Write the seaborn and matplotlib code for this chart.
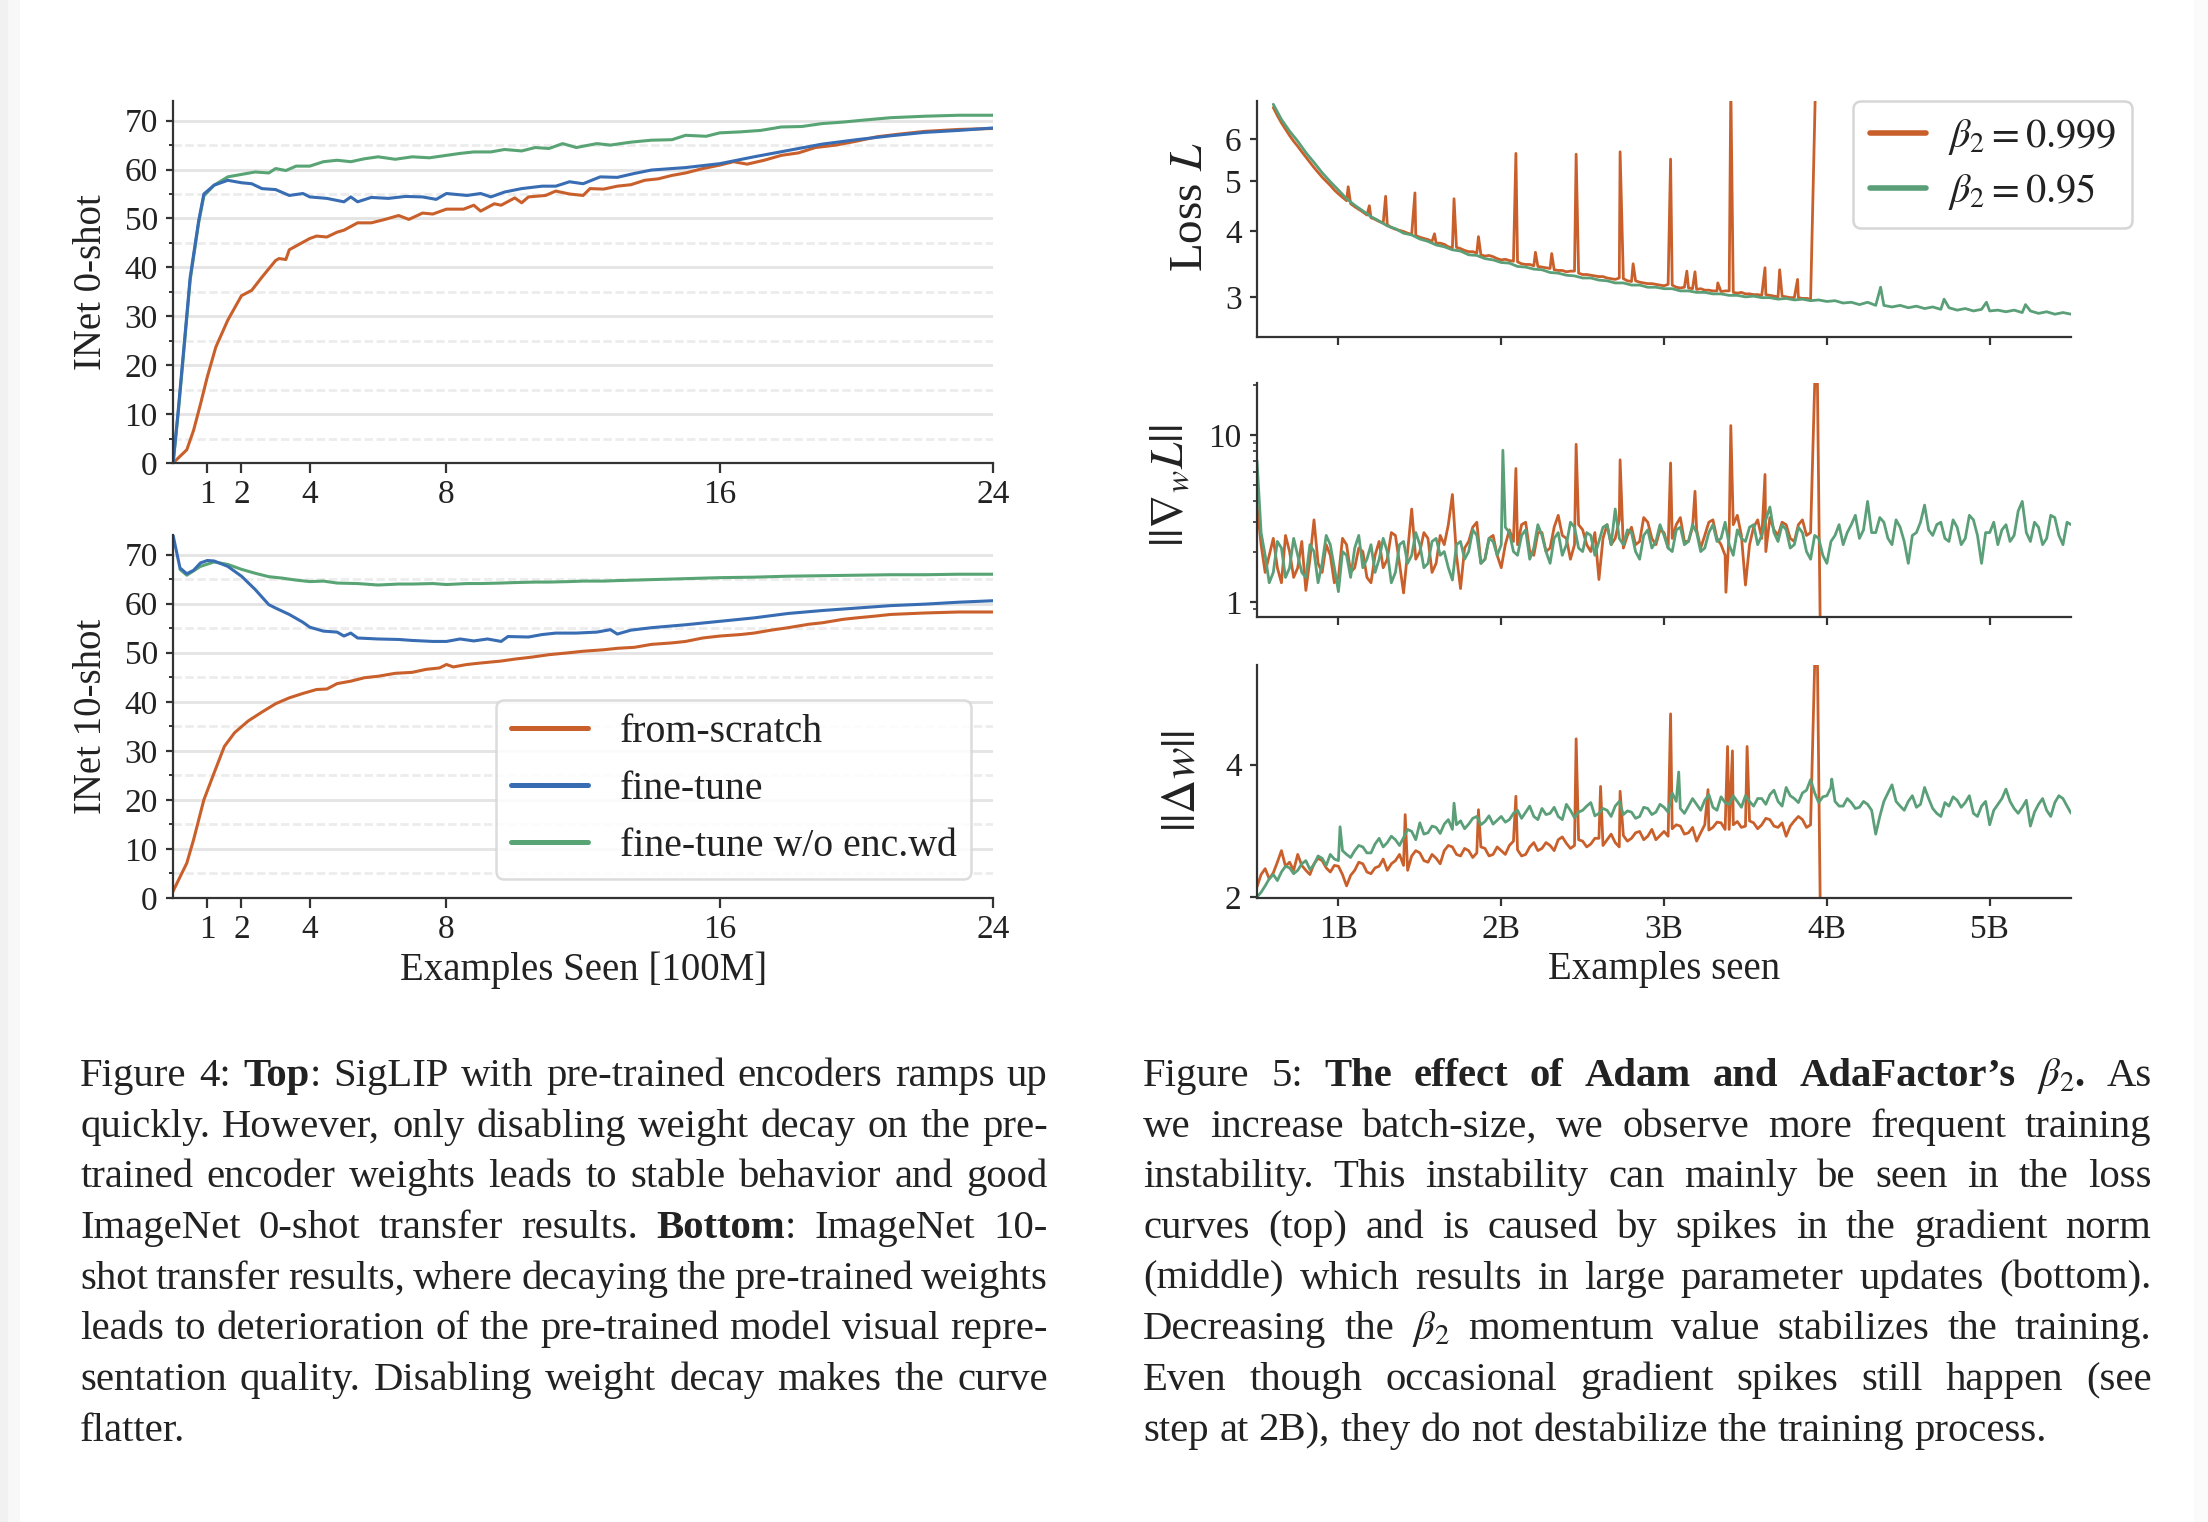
import re

import numpy as np
import pandas as pd
import matplotlib.pyplot as plt
from matplotlib.patches import Rectangle
from matplotlib.ticker import MultipleLocator, NullLocator, NullFormatter
import seaborn as sns


# ---------------------------------------------------------------- Figure 4 data
# x in units of 100M examples, y = ImageNet accuracy (%)
top_x_scratch = [0, 0.4, 0.6, 0.8, 1.0, 1.25, 1.6, 2.0, 2.3, 2.6, 3.0, 3.1, 3.3, 3.4, 4.0, 4.2, 4.5, 4.8, 5.0, 5.4,
                 5.8, 6.2, 6.6, 6.9, 7.3, 7.6, 8.0, 8.5, 8.8, 9.0, 9.4, 9.6, 10.0, 10.2, 10.4, 10.9, 11.2, 11.6, 12.0,
                 12.2, 12.6, 13.0, 13.4, 13.8, 14.2, 14.6, 15.0, 15.5, 16.0, 16.4, 16.8, 17.3, 17.8, 18.3, 18.8, 19.4,
                 20.0, 20.6, 21.2, 22.0, 23.0, 24.0]
top_y_scratch = [0, 2.7, 6.7, 12, 17.6, 23.7, 29.2, 34.2, 35.3, 38, 41.4, 41.8, 41.6, 43.6, 45.9, 46.4, 46.2, 47.2, 47.6,
                 49.1, 49.1, 49.8, 50.6, 49.8, 51.1, 50.9, 51.9, 51.9, 52.7, 51.5, 53, 52.7, 54.2, 53.2, 54.4, 54.7,
                 55.6, 55, 54.7, 56.1, 56, 56.6, 56.9, 57.8, 58.1, 58.8, 59.3, 60.2, 60.9, 61.6, 61.1, 61.9, 62.9, 63.4,
                 64.5, 65, 65.8, 66.7, 67.2, 67.8, 68.2, 68.4]
top_x_finetune = [0, 0.15, 0.3, 0.5, 0.75, 0.9, 1.2, 1.6, 2.0, 2.3, 2.6, 3.0, 3.4, 3.8, 4.0, 4.5, 5.0, 5.2, 5.4, 5.8, 6.3,
                  6.8, 7.3, 7.7, 8.0, 8.6, 9.0, 9.3, 9.7, 10.2, 10.8, 11.2, 11.6, 12.0, 12.5, 13.0, 13.5, 14, 15, 16,
                  17, 18, 19, 20, 21, 22, 23, 24]
top_y_finetune = [0, 10.8, 22.4, 38, 49.6, 55, 56.8, 57.8, 57.3, 57.1, 56.1, 55.9, 54.7, 55.1, 54.4, 54.1, 53.4, 54.4,
                  53.4, 54.3, 54.1, 54.5, 54.4, 53.9, 55.1, 54.7, 55.1, 54.4, 55.4, 56.1, 56.6, 56.6, 57.5, 57.1, 58.5,
                  58.4, 59.2, 59.9, 60.4, 61.2, 62.6, 63.9, 65.2, 66.1, 66.9, 67.6, 68, 68.5]
top_x_nowd = [0, 0.15, 0.3, 0.5, 0.75, 0.9, 1.2, 1.6, 2.0, 2.4, 2.8, 3.0, 3.3, 3.6, 4.0, 4.4, 4.8, 5.2, 5.6, 6.0, 6.5,
              7.0, 7.5, 8.0, 8.4, 8.8, 9.3, 9.7, 10.2, 10.6, 11.0, 11.4, 11.8, 12.4, 12.8, 13.4, 14.0, 14.6, 15.0, 15.6,
              16.0, 16.6, 17.2, 17.8, 18.4, 19.0, 19.6, 20.2, 21, 22, 23, 24]
top_y_nowd = [0, 10.2, 21.8, 37.4, 49.2, 54.6, 56.8, 58.5, 59, 59.5, 59.3, 60.2, 59.8, 60.7, 60.7, 61.6, 61.9, 61.6,
              62.2, 62.6, 62.1, 62.6, 62.4, 62.9, 63.3, 63.6, 63.6, 64.1, 63.8, 64.5, 64.3, 65.3, 64.5, 65.3, 65, 65.6,
              66, 66.1, 67, 66.8, 67.5, 67.7, 68, 68.7, 68.8, 69.4, 69.7, 70.1, 70.6, 70.9, 71.1, 71.1]

bot_x_scratch = [0, 0.4, 0.6, 0.9, 1.2, 1.5, 1.8, 2.2, 2.6, 3.0, 3.4, 3.8, 4.2, 4.5, 4.8, 5.2, 5.6, 6.0, 6.5, 7.0, 7.4,
                 7.8, 8.0, 8.2, 8.6, 9.0, 9.6, 10, 10.5, 11, 11.6, 12, 12.6, 13, 13.5, 14, 14.6, 15, 15.5, 16, 16.6,
                 17, 17.5, 18, 18.6, 19, 19.6, 20, 20.6, 21, 22, 23, 24]
bot_y_scratch = [1.4, 7.1, 11.9, 20, 25.5, 30.9, 33.7, 36.1, 37.9, 39.6, 40.8, 41.7, 42.5, 42.6, 43.7, 44.2, 44.9, 45.2,
                 45.8, 46, 46.6, 46.9, 47.6, 47.1, 47.6, 47.9, 48.3, 48.7, 49.1, 49.6, 50, 50.3, 50.6, 50.9, 51.1, 51.7,
                 52, 52.3, 53, 53.4, 53.7, 54, 54.6, 55.1, 55.8, 56.1, 56.8, 57.1, 57.5, 57.8, 58.1, 58.3, 58.3]
bot_x_finetune = [0, 0.2, 0.4, 0.6, 0.8, 1.0, 1.2, 1.6, 2.0, 2.4, 2.8, 3.0, 3.4, 3.8, 4.0, 4.4, 4.8, 5.0, 5.2, 5.4, 6.0,
                  6.6, 7.0, 7.6, 8.0, 8.4, 8.8, 9.2, 9.6, 9.8, 10.4, 10.8, 11.2, 11.8, 12.4, 12.8, 13.0, 13.4, 14, 15,
                  16, 17, 18, 19, 20, 21, 22, 23, 24]
bot_y_finetune = [73.9, 67.3, 66.1, 66.8, 68.3, 68.8, 68.7, 67.6, 65.6, 62.9, 59.8, 59.1, 57.8, 56.2, 55.2, 54.4, 54.2,
                  53.4, 54, 53, 52.8, 52.7, 52.5, 52.3, 52.3, 52.8, 52.4, 52.8, 52.3, 53.3, 53.2, 53.7, 54, 54, 54.2,
                  54.7, 53.8, 54.6, 55.1, 55.7, 56.4, 57.1, 58, 58.6, 59.1, 59.6, 59.9, 60.3, 60.6]
bot_x_nowd = [0.2, 0.4, 0.8, 1.2, 1.6, 2.0, 2.4, 2.8, 3.2, 3.6, 4.0, 4.4, 4.8, 5.4, 6.0, 6.6, 7.0, 7.6, 8.0, 8.6, 9.0,
              9.6, 10, 10.6, 11, 11.6, 12, 12.6, 13, 14, 15, 16, 17, 18, 19, 20, 21, 22, 23, 24]
bot_y_nowd = [67, 65.8, 67.6, 68.5, 68, 67, 66.2, 65.5, 65.2, 64.8, 64.5, 64.6, 64.2, 64.1, 63.8, 64, 64, 64.1, 63.9,
              64.1, 64.1, 64.2, 64.3, 64.4, 64.4, 64.5, 64.6, 64.6, 64.7, 64.9, 65.1, 65.3, 65.4, 65.6, 65.7, 65.8,
              65.9, 65.9, 66, 66]

fig4_labels = ['from-scratch', 'fine-tune', 'fine-tune w/o enc.wd']
fig4_xticks = [1, 2, 4, 8, 16, 24]

# ---------------------------------------------------------------- Figure 5 data
# readings taken every `step` billion examples from `start`; spikes listed separately
loss_start = 0.60
loss_999 = [6.90, 6.66, 6.45, 6.27, 6.10, 5.95, 5.82, 5.68, 5.55, 5.42,
            5.30, 5.19, 5.08, 4.99, 4.90, 4.80, 4.72, 4.65, 4.58, 4.52,
            4.46, 4.41, 4.36, 4.30, 4.25, 4.22, 4.18, 4.15, 4.12, 4.07,
            4.04, 4.02, 4.00, 3.97, 3.95, 3.93, 3.90, 3.88, 3.86, 3.83,
            3.80, 3.80, 3.78, 3.74, 3.72, 3.73, 3.71, 3.68, 3.66, 3.66,
            3.64, 3.61, 3.59, 3.60, 3.58, 3.55, 3.53, 3.54, 3.52, 3.51,
            3.50, 3.47, 3.46, 3.46, 3.44, 3.43, 3.42, 3.41, 3.40, 3.38,
            3.37, 3.37, 3.35, 3.36, 3.36, 3.33, 3.31, 3.31, 3.30, 3.29,
            3.28, 3.28, 3.26, 3.25, 3.24, 3.26, 3.25, 3.22, 3.21, 3.22,
            3.20, 3.19, 3.18, 3.18, 3.17, 3.16, 3.15, 3.17, 3.16, 3.13,
            3.12, 3.13, 3.12, 3.11, 3.10, 3.11, 3.09, 3.09, 3.08, 3.08,
            3.07, 3.08, 3.08, 3.06, 3.05, 3.06, 3.04, 3.04, 3.03, 3.03,
            3.02, 3.03, 3.02, 3.01, 3.00, 3.01, 3.00, 2.99, 2.99, 2.99,
            2.98, 2.98, 2.97]
loss_95 = [7.00, 6.55, 6.22, 5.95, 5.66, 5.42, 5.18, 4.98, 4.80, 4.62,
           4.49, 4.38, 4.27, 4.19, 4.10, 4.05, 3.97, 3.94, 3.87, 3.83,
           3.77, 3.74, 3.69, 3.67, 3.61, 3.60, 3.55, 3.53, 3.49, 3.48,
           3.43, 3.42, 3.39, 3.38, 3.34, 3.33, 3.30, 3.29, 3.26, 3.26,
           3.23, 3.22, 3.19, 3.19, 3.16, 3.16, 3.13, 3.13, 3.11, 3.11,
           3.08, 3.08, 3.06, 3.06, 3.04, 3.04, 3.02, 3.02, 3.00, 3.01,
           2.99, 2.99, 2.97, 2.98, 2.96, 2.97, 2.95, 2.96, 2.94, 2.95,
           2.92, 2.93, 2.90, 2.93, 2.89, 2.89, 2.87, 2.89, 2.86, 2.88,
           2.85, 2.87, 2.84, 2.86, 2.83, 2.85, 2.82, 2.84, 2.82, 2.83,
           2.81, 2.83, 2.80, 2.82, 2.79, 2.81, 2.78, 2.80, 2.78]
loss_spike_x_999 = [1.06, 1.19, 1.29, 1.47, 1.59, 1.71, 1.86, 2.09, 2.21, 2.31, 2.46, 2.73, 2.81, 3.04, 3.14, 3.19,
                    3.33, 3.41, 3.62, 3.71, 3.82, 3.93]
loss_spike_y_999 = [4.87, 4.48, 4.67, 4.74, 3.96, 4.62, 3.91, 5.64, 3.65, 3.63, 5.62, 5.68, 3.47, 5.50, 3.36, 3.35,
                    3.19, 7.6, 3.41, 3.38, 3.24, 7.6]
loss_spike_x_95 = [4.33, 4.72, 4.98, 5.22]
loss_spike_y_95 = [3.13, 2.97, 2.93, 2.90]

norm_start = 0.50
grad_999 = [3.8, 2.2, 1.5, 1.9, 2.4, 1.6, 1.3, 2.5, 2.0, 1.4,
            1.6, 2.3, 1.17, 1.8, 3.1, 1.7, 1.5, 2.2, 1.9, 1.3,
            1.4, 2.4, 2.2, 1.5, 1.6, 2.1, 2.0, 1.4, 1.3, 1.9,
            2.3, 1.6, 1.8, 2.6, 2.5, 1.7, 1.13, 2.0, 3.6, 1.8,
            2.0, 2.6, 2.4, 1.5, 1.7, 2.5, 2.2, 2.9, 4.4, 1.9,
            1.2, 2.1, 2.3, 2.8, 3.0, 1.7, 1.8, 2.4, 2.5, 1.9,
            1.6, 2.2, 2.7, 2.3, 2.2, 2.9, 3.0, 2.0, 1.9, 2.6,
            2.6, 2.0, 2.1, 2.8, 3.3, 2.5, 2.4, 1.8, 2.2, 2.9,
            2.7, 2.2, 2.0, 2.6, 1.36, 2.4, 2.9, 2.2, 2.4, 3.1,
            2.1, 2.5, 2.8, 2.2, 2.3, 3.2, 3.0, 2.4, 2.2, 2.7,
            2.6, 2.1, 2.4, 2.9, 3.2, 2.3, 2.3, 2.8, 2.7, 2.1,
            2.5, 3.0, 3.1, 2.4, 2.2, 1.9, 2.6, 2.9, 3.3, 2.5,
            1.26, 2.2, 2.8, 3.1, 2.4, 2.0, 3.2, 2.7, 2.5, 3.0,
            2.9, 2.4, 2.3, 2.9, 3.1, 2.5,
            2.6]
grad_95 = [7.0, 2.6, 1.9, 1.3, 1.5, 2.3, 2.1, 1.4, 1.6, 2.4,
           1.9, 1.5, 1.4, 2.2, 2.0, 1.3, 1.7, 2.5, 2.2, 1.6,
           1.15, 2.0, 1.9, 1.4, 2.1, 2.5, 1.6, 1.8, 2.2, 1.5,
           1.8, 2.4, 2.0, 1.3, 1.5, 2.2, 2.3, 1.7, 1.9, 2.6,
           2.2, 1.6, 1.7, 2.3, 2.4, 1.9, 2.0, 1.6, 1.35, 2.2,
           2.3, 1.8, 2.0, 2.7, 2.5, 1.7, 1.8, 2.4, 2.3, 1.9,
           2.2, 2.8, 2.6, 2.0, 1.9, 2.5, 2.7, 1.8, 2.1, 2.9,
           2.5, 2.0, 1.7, 2.4, 2.6, 1.9, 2.2, 3.0, 2.8, 2.1,
           2.0, 2.6, 2.5, 1.9, 2.3, 2.8, 2.9, 2.2, 3.6, 2.4,
           2.2, 2.7, 2.6, 2.0, 1.8, 2.5, 2.7, 2.1, 2.3, 2.9,
           2.5, 2.1, 2.0, 2.7, 2.8, 2.2, 2.3, 2.9, 2.6, 2.0,
           2.1, 2.6, 2.9, 2.3, 2.4, 3.0, 2.2, 1.9, 2.7, 2.4,
           2.3, 2.8, 2.9, 2.2, 2.5, 3.1, 3.7, 2.6, 2.3, 2.9,
           2.7, 2.1, 2.2, 2.8, 2.6, 2.0, 1.8, 2.5, 2.4, 1.9,
           1.7, 2.3, 2.5, 2.9, 2.2, 2.6, 2.9, 3.3, 2.4, 2.7,
           4.0, 2.6, 2.6, 3.2, 3.0, 2.4, 2.2, 3.1, 2.8, 2.3,
           1.7, 2.5, 2.6, 3.0, 3.8, 2.7, 2.5, 2.9, 3.0, 2.4,
           2.3, 3.1, 2.8, 2.2, 2.4, 3.3, 3.1, 2.5, 1.7, 2.6,
           2.6, 3.0, 2.2, 2.7, 2.9, 2.3, 2.5, 3.5, 4.0, 2.6,
           2.3, 3.0, 2.8, 2.2, 2.4, 3.3, 3.2, 2.5, 2.2, 3.0,
           2.9]
grad_spike_x_999 = [2.09, 2.46, 2.73, 3.04, 3.19, 3.38, 3.41, 3.62, 3.93, 3.94, 3.96]
grad_spike_y_999 = [6.3, 8.8, 7.1, 6.8, 4.6, 1.14, 11.4, 5.8, 30, 30, 0.6]
grad_spike_x_95 = [2.01]
grad_spike_y_95 = [8.1]

upd_999 = [2.11, 2.25, 2.32, 2.20, 2.27, 2.40, 2.55, 2.35, 2.40, 2.30,
           2.50, 2.36, 2.30, 2.25, 2.38, 2.45, 2.42, 2.33, 2.28, 2.36,
           2.35, 2.25, 2.12, 2.24, 2.30, 2.40, 2.38, 2.28, 2.26, 2.33,
           2.35, 2.44, 2.30, 2.38, 2.42, 2.50, 2.36, 2.30, 2.48, 2.55,
           2.52, 2.42, 2.40, 2.50, 2.45, 2.38, 2.55, 2.62, 2.60, 2.50,
           2.48, 2.58, 2.55, 2.46, 2.52, 2.60, 2.58, 2.48, 2.50, 2.60,
           2.55, 2.50, 2.62, 2.68, 2.56, 2.48, 2.50, 2.60, 2.66, 2.55,
           2.58, 2.66, 2.62, 2.55, 2.70, 2.74, 2.65, 2.58, 2.62, 2.70,
           2.68, 2.60, 2.64, 2.72, 2.72, 2.62, 2.70, 2.78, 2.66, 2.60,
           2.76, 2.68, 2.72, 2.80, 2.82, 2.70, 2.75, 2.85, 2.70, 2.76,
           2.82, 2.75, 2.86, 2.92, 2.90, 2.78, 2.80, 2.88, 2.68, 2.80,
           2.92, 2.84, 2.88, 2.96, 2.95, 2.85, 2.85, 2.92, 2.97, 2.88,
           2.90, 2.98, 2.95, 2.86, 2.92, 3.02, 3.00, 2.90, 2.88, 2.95,
           2.75, 2.90, 2.98, 3.05, 3.00, 2.88,
           2.92]
upd_95 = [2.00, 2.05, 2.12, 2.20, 2.25, 2.18, 2.28, 2.35, 2.33, 2.26,
          2.30, 2.38, 2.42, 2.31, 2.37, 2.48, 2.45, 2.36, 2.50, 2.44,
          2.42, 2.55, 2.50, 2.46, 2.55, 2.62, 2.60, 2.52, 2.52, 2.64,
          2.72, 2.60, 2.66, 2.75, 2.70, 2.62, 2.73, 2.85, 2.82, 2.70,
          2.95, 2.78, 2.80, 2.90, 2.88, 2.79, 2.93, 3.00, 2.85, 2.92,
          2.98, 2.86, 2.93, 3.02, 3.05, 2.92, 2.97, 3.06, 2.93, 2.99,
          3.05, 2.96, 3.00, 3.10, 3.15, 3.02, 3.12, 3.22, 3.05, 3.00,
          3.18, 3.08, 3.10, 3.20, 3.05, 3.00, 3.25, 3.15, 3.03, 3.12,
          3.15, 3.22, 3.28, 3.06, 3.10, 3.18, 3.15, 3.05, 3.22, 3.30,
          3.08, 3.14, 3.12, 3.02, 3.05, 3.20, 3.18, 3.08, 3.12, 3.25,
          3.20, 3.12, 3.45, 3.30, 3.18, 3.10, 3.22, 3.35, 3.25, 3.15,
          3.32, 3.42, 3.20, 3.15, 3.38, 3.28, 3.25, 3.40, 3.30, 3.20,
          3.40, 3.30, 3.22, 3.35, 3.35, 3.25, 3.42, 3.50, 3.30, 3.22,
          3.55, 3.40, 3.35, 3.28, 3.45, 3.50, 3.70, 3.45, 3.28, 3.38,
          3.40, 3.55, 3.30, 3.22, 3.22, 3.35, 3.28, 3.18, 3.20, 3.30,
          3.25, 3.15, 2.78, 3.05, 3.30, 3.45, 3.60, 3.30, 3.22, 3.15,
          3.30, 3.40, 3.20, 3.25, 3.55, 3.35, 3.18, 3.10, 3.05, 3.28,
          3.22, 3.38, 3.32, 3.20, 3.28, 3.40, 3.10, 3.05, 3.22, 3.30,
          2.92, 3.15, 3.25, 3.35, 3.52, 3.30, 3.18, 3.10, 3.20, 3.32,
          2.90, 3.12, 3.25, 3.35, 3.15, 3.05, 3.28, 3.40, 3.35, 3.22,
          3.10]
upd_spike_x_999 = [1.41, 1.86, 2.09, 2.46, 2.61, 2.73, 3.04, 3.27, 3.39, 3.42, 3.51, 3.93, 3.94, 3.96]
upd_spike_y_999 = [3.08, 3.16, 3.39, 4.58, 3.57, 3.48, 5.22, 3.51, 4.4, 4.3, 4.4, 8.0, 8.0, 1.8]
upd_spike_x_95 = [1.01, 1.71, 3.09, 4.03]
upd_spike_y_95 = [2.89, 3.27, 3.85, 3.71]

fig5_labels = [r'$\beta_2=0.999$', r'$\beta_2=0.95$']
fig5_xticks = [1, 2, 3, 4, 5]
fig5_xticklabels = ['1B', '2B', '3B', '4B', '5B']

# ---------------------------------------------------------------- captions
caption_4 = [
    "Figure 4: *Top*: SigLIP with pre-trained encoders ramps up",
    "quickly. However, only disabling weight decay on the pre-",
    "trained encoder weights leads to stable behavior and good",
    "ImageNet 0-shot transfer results. *Bottom*: ImageNet 10-",
    "shot transfer results, where decaying the pre-trained weights",
    "leads to deterioration of the pre-trained model visual repre-",
    "sentation quality. Disabling weight decay makes the curve",
    "flatter.",
]
caption_5 = [
    "Figure 5: *The* *effect* *of* *Adam* *and* *AdaFactor\u2019s* $\\beta_2$*.* As",
    "we increase batch-size, we observe more frequent training",
    "instability. This instability can mainly be seen in the loss",
    "curves (top) and is caused by spikes in the gradient norm",
    "(middle) which results in large parameter updates (bottom).",
    "Decreasing the $\\beta_2$ momentum value stabilizes the training.",
    "Even though occasional gradient spikes still happen (see",
    "step at 2B), they do not destabilize the training process.",
]

ORANGE = '#c9602b'
BLUE = '#386cb3'
GREEN = '#59a475'
GREEN5 = '#5a9f78'
INK = '#222222'
SPINE = '#333333'

sns.set_style('ticks')
plt.rcParams['font.family'] = ['Liberation Serif', 'DejaVu Serif']
plt.rcParams.update({
    'mathtext.fontset': 'stix',
    'axes.edgecolor': SPINE,
    'axes.linewidth': 0.8,
    'xtick.color': SPINE,
    'ytick.color': SPINE,
    'xtick.labelcolor': INK,
    'ytick.labelcolor': INK,
    'text.color': INK,
    'axes.labelcolor': INK,
})


def sampled(start, step, vals, sx, sy):
    x = np.concatenate([start + step * np.arange(len(vals)), sx])
    y = np.concatenate([vals, sy])
    order = np.argsort(x, kind='stable')
    return pd.DataFrame({'x': x[order], 'y': y[order]})


def style_fig4(ax, ylabel):
    ax.set_xlim(0, 24)
    ax.set_ylim(0, 74)
    ax.set_xticks(fig4_xticks, labels=[str(t) for t in fig4_xticks])
    ax.set_yticks(range(0, 71, 10))
    ax.yaxis.set_minor_locator(MultipleLocator(5))
    ax.grid(axis='y', which='major', color='#e4e4e4', lw=1.0, ls='-')
    ax.grid(axis='y', which='minor', color='#ececec', lw=1.0, ls=(0, (3, 1.3)))
    ax.set_axisbelow(True)
    ax.tick_params(axis='x', length=3.6, width=0.8, pad=2.5, labelsize=12)
    ax.tick_params(axis='y', which='major', length=2.5, width=0.8, pad=3, labelsize=12)
    ax.tick_params(axis='y', which='minor', length=1.6, width=0.7)
    ax.set_xlabel('')
    ax.set_ylabel(ylabel, fontsize=14, va='center')
    ax.yaxis.set_label_coords(-0.099, 0.5)
    sns.despine(ax=ax)


def style_fig5(ax, ylabel, label_x, label_y=0.5):
    ax.set_xlim(0.5, 5.5)
    ax.set_xticks(fig5_xticks, labels=fig5_xticklabels)
    ax.tick_params(axis='x', length=3.0, width=0.8, pad=3, labelsize=12)
    ax.tick_params(axis='y', which='major', length=2.5, width=0.8, pad=3, labelsize=12)
    ax.tick_params(axis='y', which='minor', length=1.5, width=0.6)
    ax.set_xlabel('')
    ax.set_ylabel(ylabel, fontsize=17, va='center')
    ax.yaxis.set_label_coords(label_x, label_y)
    sns.despine(ax=ax)


def caption(fig, lines, x0, x1, y0, step, size):
    rend = fig.canvas.get_renderer()
    fw = fig.bbox.width
    space = 0.25 * size * fig.dpi / 72 / fw
    for i, line in enumerate(lines):
        y = y0 - i * step
        words = []
        for w in line.split():
            parts = []
            for p in re.split(r'(\*[^*]+\*)', w):
                if not p:
                    continue
                bold = len(p) > 2 and p[0] == '*' and p[-1] == '*'
                t = fig.text(x0, y, p[1:-1] if bold else p, fontsize=size,
                             fontweight='bold' if bold else 'normal', color=INK,
                             ha='left', va='baseline')
                parts.append((t, t.get_window_extent(rend).width / fw))
            words.append(parts)
        widths = [sum(wd for _, wd in parts) for parts in words]
        if i < len(lines) - 1 and len(words) > 1:
            gap = (x1 - x0 - sum(widths)) / (len(words) - 1)
        else:
            gap = space
        x = x0
        for parts, wdt in zip(words, widths):
            xx = x
            for t, wd in parts:
                t.set_x(xx)
                xx += wd
            x += wdt + gap


fig = plt.figure(figsize=(11.04, 7.61), dpi=200)
fig.patch.set_facecolor('white')
fig.patches.append(Rectangle((0, 0), 0.004, 1, transform=fig.transFigure, color='#f1f1f1', zorder=0))
fig.patches.append(Rectangle((0.004, 0), 0.004, 1, transform=fig.transFigure, color='#f8f8f8', zorder=0))
fig.patches.append(Rectangle((0.994, 0), 0.006, 1, transform=fig.transFigure, color='#fbfbfb', zorder=0))

# ---------------- Figure 4
ax_a = fig.add_axes([0.0784, 0.6958, 0.3714, 0.2378])
ax_b = fig.add_axes([0.0784, 0.4100, 0.3714, 0.2385])

for ax, xs, ys in [(ax_a, (top_x_scratch, top_x_finetune, top_x_nowd), (top_y_scratch, top_y_finetune, top_y_nowd)),
                   (ax_b, (bot_x_scratch, bot_x_finetune, bot_x_nowd), (bot_y_scratch, bot_y_finetune, bot_y_nowd))]:
    for x, y, c, lab, z in zip(xs, ys, (ORANGE, BLUE, GREEN), fig4_labels, (2.2, 2.4, 2.3)):
        sns.lineplot(x=x, y=y, ax=ax, color=c, lw=1.1, label=lab, estimator=None, zorder=z)

style_fig4(ax_a, 'INet 0-shot')
style_fig4(ax_b, 'INet 10-shot')
ax_a.get_legend().remove()
ax_b.set_xlabel('Examples Seen [100M]', fontsize=14, va='center')
ax_b.xaxis.set_label_coords(0.5, -0.198)
leg = ax_b.legend(loc='lower right', bbox_to_anchor=(0.973, 0.052), borderaxespad=0, fontsize=14.3,
                  handlelength=1.95, handletextpad=0.8, labelspacing=0.5, borderpad=0.36,
                  frameon=True, fancybox=True, edgecolor='#d6d6d6', framealpha=0.85)
leg.get_frame().set_linewidth(0.9)
for ln in leg.get_lines():
    ln.set_linewidth(1.8)

# ---------------- Figure 5
ax_c = fig.add_axes([0.5693, 0.7789, 0.3687, 0.1547])
ax_d = fig.add_axes([0.5693, 0.5946, 0.3687, 0.1537])
ax_e = fig.add_axes([0.5693, 0.4100, 0.3687, 0.1534])
for ax in (ax_c, ax_d, ax_e):
    ax.set_yscale('log')

panels = [
    (ax_c, sampled(loss_start, 0.025, loss_999, loss_spike_x_999, loss_spike_y_999),
     sampled(loss_start, 0.05, loss_95, loss_spike_x_95, loss_spike_y_95)),
    (ax_d, sampled(norm_start, 0.025, grad_999, grad_spike_x_999, grad_spike_y_999),
     sampled(norm_start, 0.025, grad_95, grad_spike_x_95, grad_spike_y_95)),
    (ax_e, sampled(norm_start, 0.025, upd_999, upd_spike_x_999, upd_spike_y_999),
     sampled(norm_start, 0.025, upd_95, upd_spike_x_95, upd_spike_y_95)),
]
for ax, d999, d95 in panels:
    lab = ax is ax_c
    sns.lineplot(data=d999, x='x', y='y', ax=ax, color=ORANGE, lw=1.0, estimator=None,
                 label=fig5_labels[0] if lab else None)
    sns.lineplot(data=d95, x='x', y='y', ax=ax, color=GREEN5, lw=1.0, estimator=None,
                 label=fig5_labels[1] if lab else None)

ax_c.set_ylim(2.52, 7.1)
ax_c.set_yticks([3, 4, 5, 6], labels=['3', '4', '5', '6'])
ax_c.yaxis.set_minor_locator(NullLocator())
style_fig5(ax_c, r'Loss $L$', -0.082, 0.55)
ax_c.tick_params(axis='x', labelbottom=False)

ax_d.set_ylim(0.81, 20.5)
ax_d.set_yticks([1, 10], labels=['1', '10'])
ax_d.yaxis.set_minor_formatter(NullFormatter())
style_fig5(ax_d, r'$||\nabla_w L||$', -0.105, 0.56)
ax_d.tick_params(axis='x', labelbottom=False)

ax_e.set_ylim(1.99, 6.76)
ax_e.set_yticks([2, 4], labels=['2', '4'])
ax_e.yaxis.set_minor_locator(NullLocator())
style_fig5(ax_e, r'$||\Delta w||$', -0.091)
ax_e.set_xlabel('Examples seen', fontsize=14, va='center')
ax_e.xaxis.set_label_coords(0.5, -0.308)

leg5 = ax_c.legend(loc='upper right', bbox_to_anchor=(1.075, 1.0), borderaxespad=0, fontsize=14.5,
                   handlelength=1.4, handletextpad=0.55, labelspacing=0.35, borderpad=0.4,
                   frameon=True, fancybox=True, edgecolor='#d6d6d6', framealpha=1.0)
leg5.get_frame().set_linewidth(0.9)
for ln in leg5.get_lines():
    ln.set_linewidth(2.0)

# ---------------- captions
caption(fig, caption_4, 0.0363, 0.4745, 0.2865, 0.0333, 14.7)
caption(fig, caption_5, 0.5178, 0.9744, 0.2865, 0.0333, 14.7)

fig.savefig('out.png', dpi=200, facecolor='white')
